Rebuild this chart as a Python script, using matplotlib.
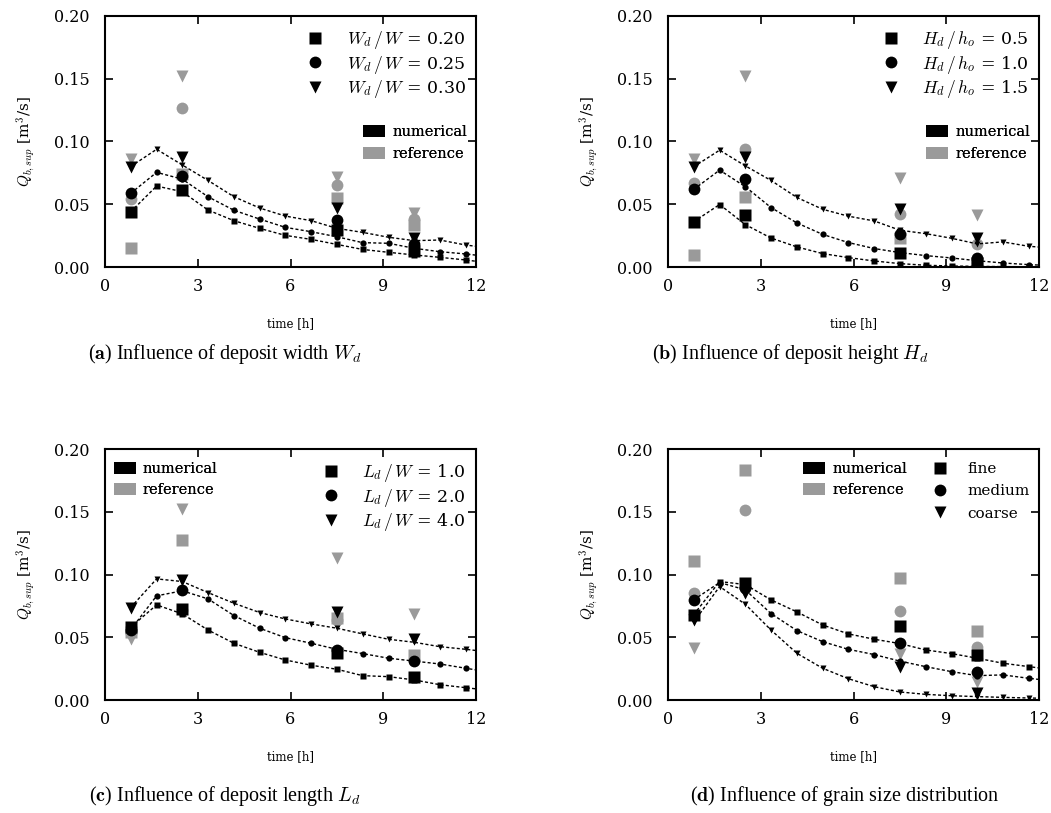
import matplotlib
matplotlib.use("Agg")
import matplotlib.pyplot as plt
from matplotlib.lines import Line2D
from matplotlib.patches import Patch

# ===== data =====
# times of the simulated curve (last point lies outside the axis and is clipped)
T_LINE = [0.83, 1.67, 2.5, 3.33, 4.17, 5.0, 5.83, 6.67, 7.5, 8.33, 9.17, 10.0, 10.83, 11.67, 12.5]
# measurement times
T_MEAS = [0.83, 2.5, 7.5, 10.0]

# (a) deposit width
A_LABELS = [r"$W_d\,/\,W$ = 0.20", r"$W_d\,/\,W$ = 0.25", r"$W_d\,/\,W$ = 0.30"]
A_SQ = [0.044, 0.0645, 0.060, 0.0454, 0.0369, 0.0308, 0.0252, 0.022, 0.018, 0.014, 0.0117, 0.0096, 0.0077, 0.0056, 0.003]
A_CI = [0.0587, 0.0754, 0.070, 0.056, 0.0452, 0.0382, 0.0316, 0.0281, 0.0241, 0.0194, 0.0189, 0.0149, 0.0122, 0.0104, 0.008]
A_TR = [0.080, 0.0938, 0.0813, 0.069, 0.056, 0.047, 0.0406, 0.0369, 0.0308, 0.0276, 0.0237, 0.021, 0.0215, 0.0175, 0.015]
A_NUM_SQ = [0.044, 0.0614, 0.0295, 0.013]
A_NUM_CI = [0.0587, 0.0725, 0.0375, 0.018]
A_NUM_TR = [0.080, 0.0879, 0.0468, 0.023]
A_REF_SQ = [0.015, 0.074, 0.0547, 0.0335]
A_REF_CI = [0.054, 0.127, 0.065, 0.038]
A_REF_TR = [0.086, 0.152, 0.072, 0.043]

# (b) deposit height
B_LABELS = [r"$H_d\,/\,h_o$ = 0.5", r"$H_d\,/\,h_o$ = 1.0", r"$H_d\,/\,h_o$ = 1.5"]
B_SQ = [0.036, 0.0498, 0.0338, 0.0231, 0.016, 0.0107, 0.0075, 0.0048, 0.0027, 0.0014, 0.0008, 0.0005, 0.0003, 0.0002, 0.0001]
B_CI = [0.0618, 0.0772, 0.064, 0.0474, 0.0351, 0.026, 0.0195, 0.0147, 0.0115, 0.0091, 0.0072, 0.005, 0.0032, 0.0019, 0.001]
B_TR = [0.0798, 0.0931, 0.0806, 0.069, 0.0554, 0.046, 0.0405, 0.0367, 0.0293, 0.0266, 0.0229, 0.0184, 0.020, 0.0165, 0.015]
B_NUM_SQ = [0.036, 0.0418, 0.0115, 0.003]
B_NUM_CI = [0.0618, 0.0705, 0.0266, 0.007]
B_NUM_TR = [0.0798, 0.088, 0.0466, 0.0235]
B_REF_SQ = [0.0099, 0.0554, 0.0235, 0.003]
B_REF_CI = [0.067, 0.0942, 0.0426, 0.018]
B_REF_TR = [0.0857, 0.152, 0.071, 0.0418]

# (c) deposit length
C_LABELS = [r"$L_d\,/\,W$ = 1.0", r"$L_d\,/\,W$ = 2.0", r"$L_d\,/\,W$ = 4.0"]
C_SQ = [0.058, 0.0758, 0.0686, 0.0558, 0.0452, 0.038, 0.0319, 0.0277, 0.0245, 0.0194, 0.0186, 0.016, 0.0122, 0.0098, 0.0075]
C_CI = [0.056, 0.083, 0.087, 0.0806, 0.0673, 0.0572, 0.0497, 0.0452, 0.0404, 0.037, 0.0333, 0.031, 0.0287, 0.0253, 0.022]
C_TR = [0.0737, 0.0965, 0.0944, 0.0856, 0.0771, 0.0697, 0.0646, 0.0606, 0.0572, 0.0527, 0.0484, 0.046, 0.0425, 0.0404, 0.038]
C_NUM_SQ = [0.058, 0.0724, 0.0372, 0.0181]
C_NUM_CI = [0.056, 0.088, 0.040, 0.031]
C_NUM_TR = [0.0737, 0.0957, 0.070, 0.0484]
C_REF_SQ = [0.054, 0.1276, 0.0652, 0.0359]
C_REF_CI = [0.053, 0.072, 0.064, 0.032]
C_REF_TR = [0.049, 0.152, 0.113, 0.0686]

# (d) grain size distribution
D_LABELS = ["fine", "medium", "coarse"]
D_SQ = [0.068, 0.0944, 0.092, 0.0798, 0.0702, 0.0598, 0.0527, 0.0484, 0.045, 0.0399, 0.037, 0.0333, 0.0293, 0.0266, 0.024]
D_CI = [0.0798, 0.0936, 0.0878, 0.0689, 0.0553, 0.0465, 0.0404, 0.0362, 0.031, 0.0266, 0.0226, 0.0194, 0.020, 0.0173, 0.015]
D_TR = [0.062, 0.0904, 0.0763, 0.0558, 0.0372, 0.0253, 0.017, 0.0106, 0.0064, 0.0045, 0.0034, 0.0027, 0.0021, 0.0016, 0.0012]
D_NUM_SQ = [0.068, 0.093, 0.059, 0.0359]
D_NUM_CI = [0.0798, 0.089, 0.0457, 0.0226]
D_NUM_TR = [0.0638, 0.085, 0.0266, 0.0053]
D_REF_SQ = [0.111, 0.1835, 0.0976, 0.0553]
D_REF_CI = [0.0856, 0.1516, 0.071, 0.042]
D_REF_TR = [0.0412, 0.085, 0.0365, 0.0146]

CAPTIONS = [
    r"($\mathbf{a}$) Influence of deposit width $W_d$",
    r"($\mathbf{b}$) Influence of deposit height $H_d$",
    r"($\mathbf{c}$) Influence of deposit length $L_d$",
    r"($\mathbf{d}$) Influence of grain size distribution",
]

GRAY = "#9a9a9a"
MARKERS = ["s", "o", "v"]
BIG = [8, 8.5, 9]
SMALL = [4, 4.5, 5]

plt.rcParams["font.family"] = ["DejaVu Serif"]
plt.rcParams["mathtext.fontset"] = "cm"


def draw_panel(ax, lines, num, ref):
    """reference (gray), simulated curve (dashed) and numerical values (black)"""
    for m, s, y in zip(MARKERS, BIG, ref):
        ax.plot(T_MEAS, y, ls="none", marker=m, ms=s, color=GRAY, mec="none", zorder=2)
    for m, s, y in zip(MARKERS, SMALL, lines):
        ax.plot(T_LINE, y, color="k", lw=1.0, dashes=(2.2, 1.6), marker=m, ms=s,
                mec="none", zorder=3)
    for m, s, y in zip(MARKERS, BIG, num):
        ax.plot(T_MEAS, y, ls="none", marker=m, ms=s, color="k", mec="none", zorder=4)

    ax.set_xlim(0, 12)
    ax.set_ylim(0, 0.2)
    ax.set_xticks([0, 3, 6, 9, 12])
    ax.set_yticks([0.0, 0.05, 0.10, 0.15, 0.20])
    ax.yaxis.set_major_formatter(matplotlib.ticker.FormatStrFormatter("%.2f"))
    ax.tick_params(direction="in", top=True, right=True, length=6, width=1.2,
                   labelsize=11.5)
    ax.tick_params(axis="y", pad=11)
    ax.tick_params(axis="x", pad=8)
    for sp in ax.spines.values():
        sp.set_linewidth(1.5)
    ax.set_xlabel("time [h]", fontsize=8.5, labelpad=16)
    ax.set_ylabel(r"$Q_{b,sup}$ [m$^3$/s]", fontsize=11, labelpad=12)


def marker_legend(ax, labels, anchor, size, spacing):
    handles = [Line2D([], [], ls="none", marker=m, ms=s, color="k", mec="none")
               for m, s in zip(MARKERS, BIG)]
    leg = ax.legend(handles, labels, loc="upper right", bbox_to_anchor=anchor,
                    frameon=False, fontsize=size, handlelength=1.0, handletextpad=1.3,
                    labelspacing=spacing, borderaxespad=0.2)
    ax.add_artist(leg)


def source_legend(ax, loc, anchor):
    handles = [Patch(facecolor="k", edgecolor="none"), Patch(facecolor=GRAY, edgecolor="none")]
    leg = ax.legend(handles, ["numerical", "reference"], loc=loc, bbox_to_anchor=anchor,
                    frameon=False, fontsize=10.5, handlelength=1.5, handleheight=0.9,
                    handletextpad=0.5, labelspacing=0.5, borderaxespad=0.2)
    ax.add_artist(leg)


def main():
    fig = plt.figure(figsize=(10.51, 8.13), dpi=100)
    W, H = 1051.0, 813.0
    boxes = [(105, 16), (668, 16), (105, 449), (668, 449)]
    axes = [fig.add_axes([x / W, 1 - (y + 251) / H, 371 / W, 251 / H]) for x, y in boxes]

    draw_panel(axes[0], [A_SQ, A_CI, A_TR], [A_NUM_SQ, A_NUM_CI, A_NUM_TR], [A_REF_SQ, A_REF_CI, A_REF_TR])
    draw_panel(axes[1], [B_SQ, B_CI, B_TR], [B_NUM_SQ, B_NUM_CI, B_NUM_TR], [B_REF_SQ, B_REF_CI, B_REF_TR])
    draw_panel(axes[2], [C_SQ, C_CI, C_TR], [C_NUM_SQ, C_NUM_CI, C_NUM_TR], [C_REF_SQ, C_REF_CI, C_REF_TR])
    draw_panel(axes[3], [D_SQ, D_CI, D_TR], [D_NUM_SQ, D_NUM_CI, D_NUM_TR], [D_REF_SQ, D_REF_CI, D_REF_TR])

    marker_legend(axes[0], A_LABELS, (1.0, 0.99), 12.5, 0.15)
    source_legend(axes[0], "upper right", (1.0, 0.6))
    marker_legend(axes[1], B_LABELS, (1.0, 0.99), 12.5, 0.15)
    source_legend(axes[1], "upper right", (1.0, 0.6))
    marker_legend(axes[2], C_LABELS, (1.0, 0.99), 12.5, 0.15)
    source_legend(axes[2], "upper left", (0.0, 0.985))
    marker_legend(axes[3], D_LABELS, (1.0, 0.985), 11, 0.55)
    source_legend(axes[3], "upper left", (0.34, 0.985))

    caption_pos = [(225, 354), (790, 354), (225, 796), (845, 796)]
    for (x, y), txt in zip(caption_pos, CAPTIONS):
        fig.text(x / W, 1 - y / H, txt, ha="center", va="center", fontsize=14.5,
                 family=["Liberation Serif", "DejaVu Serif"])

    fig.savefig("out.png", dpi=100)


if __name__ == "__main__":
    main()
